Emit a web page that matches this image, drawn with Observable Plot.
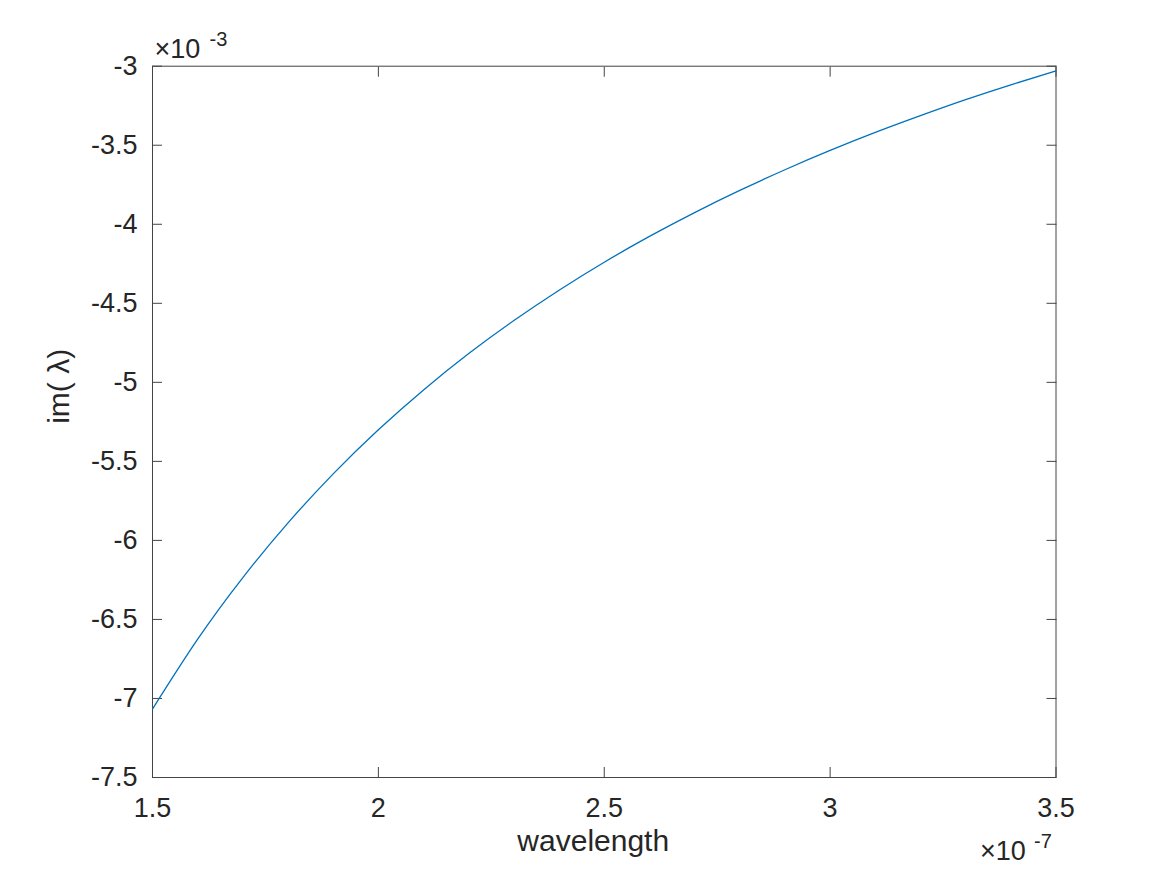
<!DOCTYPE html>
<html>
<head>
<meta charset="utf-8">
<script src="https://cdn.jsdelivr.net/npm/d3@7"></script>
<script src="https://cdn.jsdelivr.net/npm/@observablehq/plot@0.6"></script>
<style>
  html, body { margin: 0; padding: 0; background: #fff; }
  #chart svg { display: block; }
</style>
</head>
<body>
<div id="chart"></div>
<script>
// wavelength in units of 1e-7, im(lambda) in units of 1e-3
const wavelength = [1.5, 1.6, 1.7, 1.8, 1.9, 2.0, 2.1, 2.2, 2.3, 2.4, 2.5, 2.6, 2.7, 2.8, 2.9, 3.0, 3.1, 3.2, 3.3, 3.4, 3.5];
const imLambda = [-7.067, -6.625, -6.235, -5.889, -5.579, -5.300, -5.048, -4.818, -4.609, -4.417, -4.240, -4.077, -3.926, -3.786, -3.655, -3.533, -3.419, -3.313, -3.212, -3.118, -3.029];
const xTicks = [1.5, 2, 2.5, 3, 3.5];
const yTicks = [-7.5, -7, -6.5, -6, -5.5, -5, -4.5, -4, -3.5, -3];
const xExponent = ["×10", "-7"];
const yExponent = ["×10", "-3"];
const xLabel = ["wavelength"];
const yLabel = ["im( λ)"];

const data = wavelength.map((w, i) => ({w, v: imLambda[i]}));
const ink = "#262626";
const axisInk = "#444444";
const fmt = d => String(d);

const chart = Plot.plot({
  width: 1167,
  height: 875,
  marginLeft: 152,
  marginRight: 111.5,
  marginTop: 65.7,
  marginBottom: 98,
  style: {fontFamily: "'Liberation Sans', Arial, Helvetica, sans-serif", color: ink, background: "#fff"},
  x: {domain: [1.5, 3.5]},
  y: {domain: [-7.5, -3]},
  marks: [
    Plot.frame({stroke: axisInk, strokeWidth: 1}),
    // inward ticks on all four sides
    Plot.axisX(xTicks, {anchor: "bottom", tickSize: -10, tickFormat: () => "", label: null, stroke: axisInk}),
    Plot.axisX(xTicks, {anchor: "top", tickSize: -10, tickFormat: () => "", label: null, stroke: axisInk}),
    Plot.axisY(yTicks, {anchor: "left", tickSize: -10, tickFormat: () => "", label: null, stroke: axisInk}),
    Plot.axisY(yTicks, {anchor: "right", tickSize: -10, tickFormat: () => "", label: null, stroke: axisInk}),
    // tick labels
    Plot.axisX(xTicks, {anchor: "bottom", tickSize: 0, tickPadding: 20, tickFormat: fmt, label: null, fontSize: 27, fill: ink}),
    Plot.axisY(yTicks, {anchor: "left", tickSize: 0, tickPadding: 15, tickFormat: fmt, label: null, fontSize: 27, fill: ink}),
    // curve
    Plot.line(data, {x: "w", y: "v", stroke: "#0072BD", strokeWidth: 1.3, curve: "natural"}),
    // axis labels
    Plot.text(xLabel, {frameAnchor: "bottom", dx: -11, dy: 64, fontSize: 30, fill: ink, lineAnchor: "middle"}),
    Plot.text(yLabel, {frameAnchor: "left", dx: -93.6, dy: 2, rotate: -90, fontSize: 30, fill: ink, lineAnchor: "middle"}),
    // exponent annotations
    Plot.text([yExponent[0]], {frameAnchor: "top-left", textAnchor: "start", dx: 2, dy: -17.3, fontSize: 27, fill: ink, lineAnchor: "middle"}),
    Plot.text([yExponent[1]], {frameAnchor: "top-left", textAnchor: "start", dx: 57, dy: -27, fontSize: 20, fill: ink, lineAnchor: "middle"}),
    Plot.text([xExponent[0]], {frameAnchor: "bottom-right", textAnchor: "start", dx: -76, dy: 73.4, fontSize: 27, fill: ink, lineAnchor: "middle"}),
    Plot.text([xExponent[1]], {frameAnchor: "bottom-right", textAnchor: "start", dx: -22, dy: 64, fontSize: 20, fill: ink, lineAnchor: "middle"})
  ]
});
document.getElementById("chart").appendChild(chart);
</script>
</body>
</html>
